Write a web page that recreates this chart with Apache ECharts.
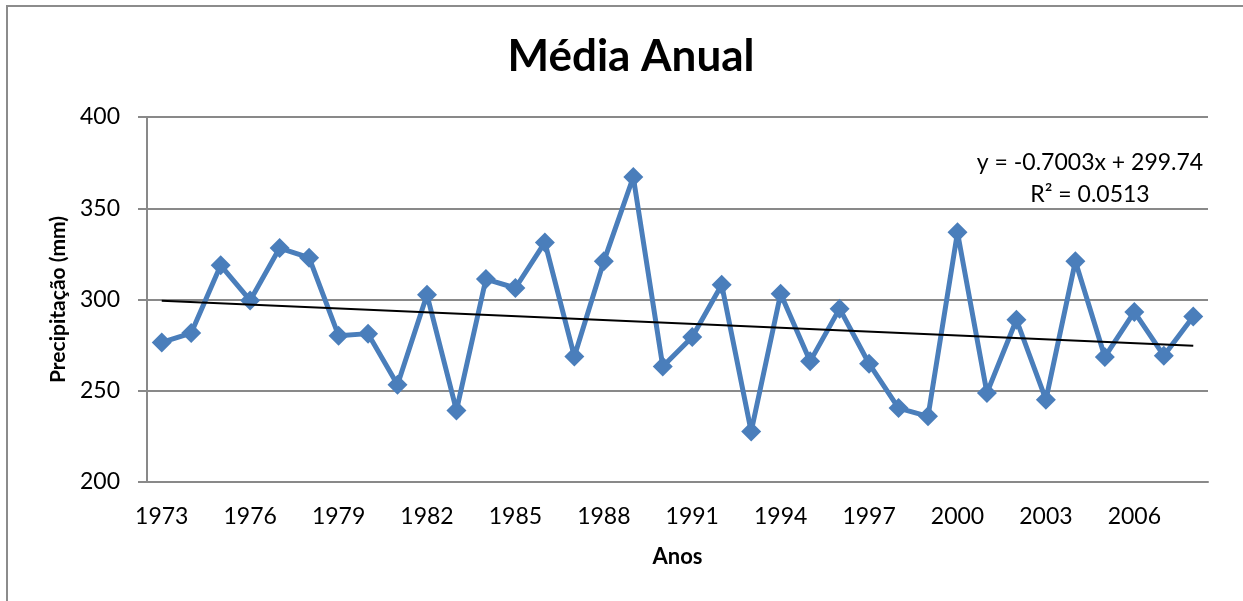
<!DOCTYPE html>
<html>
<head>
<meta charset="utf-8">
<title>Média Anual</title>
<script src="https://cdn.jsdelivr.net/npm/echarts@6/dist/echarts.min.js"></script>
<style>
    html, body { margin: 0; padding: 0; background: #fff; }
    #chart { width: 1243px; height: 601px; }
</style>
</head>
<body>
<div id="chart"></div>
<script>
const years = []
for (let y = 1973; y <= 2008; y++) years.push(String(y))

// precipitação média anual (mm)
const precip = [
    276.5, 281.6, 318.7, 299.5, 328.2, 322.9, 280.2, 281.3, 253.3, 302.6,
    239.2, 311.2, 306.3, 331.3, 268.8, 320.9, 367.1, 263.3, 279.4, 308.1,
    227.7, 303.2, 266.1, 295.0, 264.8, 240.5, 236.0, 336.8, 248.8, 288.9,
    245.1, 320.9, 268.5, 293.2, 269.2, 290.7
]

// linha de tendência: valores nas pontas (1973 e 2008)
const trendEnds = [299.3, 274.7]
const trendLabel = ['y = -0.7003x + 299.74', 'R² = 0.0513']

const yTicks = { min: 200, max: 400, step: 50 }

const FONT = 'Lato, "Open Sans", sans-serif'
const GRID_COLOR = '#898989'
const BLUE = '#4A7EBB'

const chart = echarts.init(document.getElementById('chart'))

const option = {
    animation: false,
    backgroundColor: '#fff',
    title: {
        text: 'Média Anual',
        left: 626,
        top: 30,
        textAlign: 'center',
        textStyle: { fontFamily: FONT, fontSize: 44, fontWeight: 'bold', color: '#000' }
    },
    grid: { left: 147, right: 35, top: 117, bottom: 119, containLabel: false },
    xAxis: {
        type: 'category',
        data: years,
        boundaryGap: true,
        name: 'Anos',
        nameLocation: 'middle',
        nameGap: 64,
        nameTextStyle: { fontFamily: FONT, fontSize: 22, fontWeight: 'bold', color: '#000' },
        axisLine: { lineStyle: { color: GRID_COLOR, width: 2 } },
        axisTick: { show: false },
        axisLabel: {
            interval: 2,
            margin: 23,
            fontFamily: FONT,
            fontSize: 23,
            color: '#000'
        }
    },
    yAxis: {
        type: 'value',
        min: yTicks.min,
        max: yTicks.max,
        interval: yTicks.step,
        name: 'Precipitação (mm)',
        nameLocation: 'middle',
        nameRotate: 90,
        nameGap: 78,
        nameTextStyle: { fontFamily: FONT, fontSize: 21, fontWeight: 'bold', color: '#000' },
        axisLine: { show: true, lineStyle: { color: GRID_COLOR, width: 2 } },
        axisTick: { show: true, length: 9, lineStyle: { color: GRID_COLOR, width: 2 } },
        axisLabel: { margin: 27, fontFamily: FONT, fontSize: 23, color: '#000' },
        splitLine: { lineStyle: { color: GRID_COLOR, width: 2 } }
    },
    graphic: [
        {
            type: 'rect',
            silent: true,
            shape: { x: 7, y: 6, width: 1260, height: 640 },
            style: { fill: 'none', stroke: '#8c8c8c', lineWidth: 2 }
        },
        {
            type: 'text',
            x: 1090,
            y: 163,
            style: {
                text: trendLabel[0],
                align: 'center',
                verticalAlign: 'middle',
                fontFamily: FONT,
                fontSize: 23,
                fill: '#000'
            }
        },
        {
            type: 'text',
            x: 1090,
            y: 195,
            style: {
                text: trendLabel[1],
                align: 'center',
                verticalAlign: 'middle',
                fontFamily: FONT,
                fontSize: 23,
                fill: '#000'
            }
        }
    ],
    series: [
        {
            name: 'Precipitação',
            type: 'line',
            data: precip,
            symbol: 'diamond',
            symbolSize: 20,
            showAllSymbol: true,
            lineStyle: { color: BLUE, width: 5 },
            itemStyle: { color: BLUE },
            z: 3,
            markLine: {
                silent: true,
                symbol: 'none',
                label: { show: false },
                lineStyle: { color: '#000', width: 2, type: 'solid' },
                data: [[
                    { coord: [years[0], trendEnds[0]] },
                    { coord: [years[years.length - 1], trendEnds[1]] }
                ]]
            }
        }
    ]
}

chart.setOption(option)
</script>
</body>
</html>
